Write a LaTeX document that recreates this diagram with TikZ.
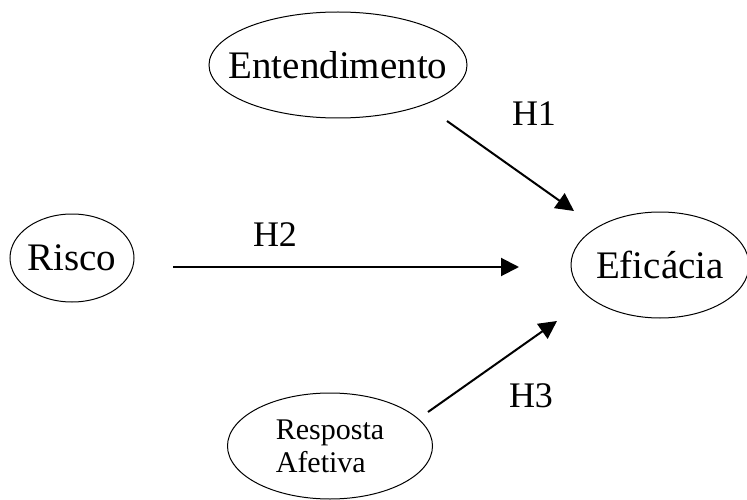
\documentclass[tikz,border=0pt]{standalone}
\usepackage{fontspec}
\setmainfont{Liberation Serif}
\usetikzlibrary{shapes.geometric,arrows.meta}
\begin{document}
\begin{tikzpicture}[x=1pt,y=-1pt,
  var/.style={ellipse,draw,line width=1pt,inner sep=0pt},
  vtext/.style={inner sep=0pt,font=\fontsize{39}{42}\selectfont},
  hlab/.style={font=\fontsize{36}{38}\selectfont,inner sep=0pt},
  conn/.style={line width=2pt,-{Triangle[length=18pt,width=18pt]}}]
\useasboundingbox (0,0) rectangle (747,500);
\node[var,minimum width=258pt,minimum height=106pt] (ent) at (338,65) {};
\node[vtext] (entt) at (ent) {Entendimento};
\node[var,minimum width=124pt,minimum height=88pt] (ris) at (72,258) {};
\node[vtext] (rist) at (ris) {Risco};
\node[var,minimum width=178pt,minimum height=106pt] (efi) at (660,265) {};
\node[vtext] (efit) at (efi) {Eficácia};
\node[var,minimum width=205pt,minimum height=106pt] (res) at (330,446) {};
\node[vtext,align=left,font=\fontsize{30}{33}\selectfont] (rest) at (res) {Resposta\\Afetiva};
\coordinate (a1) at (447,121);
\coordinate (b1) at (574,211);
\coordinate (a2) at (173,267);
\coordinate (b2) at (519,267);
\coordinate (a3) at (428,412);
\coordinate (b3) at (557,321);
\draw[conn] (a1) -- (b1);
\draw[conn] (a2) -- (b2);
\draw[conn] (a3) -- (b3);
\node[hlab] (h1) at (534,114) {H1};
\node[hlab] (h2) at (275,235) {H2};
\node[hlab] (h3) at (531,396) {H3};
\end{tikzpicture}
\end{document}
